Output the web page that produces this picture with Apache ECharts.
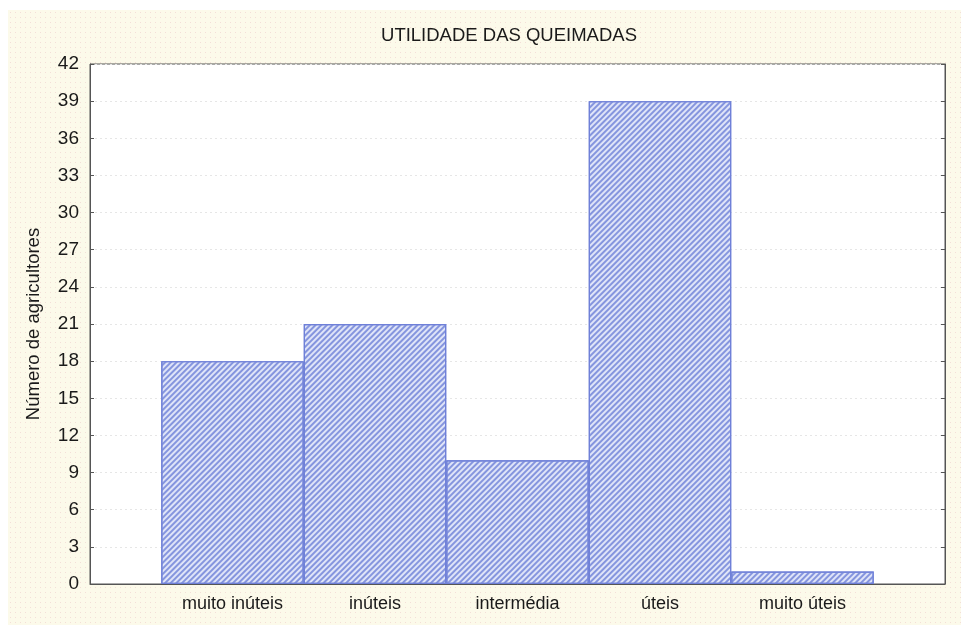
<!DOCTYPE html>
<html>
<head>
<meta charset="utf-8">
<script src="https://cdn.jsdelivr.net/npm/echarts@6/dist/echarts.min.js"></script>
<style>
html,body{margin:0;padding:0;background:#ffffff;}
#paper{position:absolute;left:8px;top:10px;width:953px;height:615px;
 background-color:#fcfaea;
 background-image:radial-gradient(circle, rgba(230,170,185,0.35) 0.6px, transparent 1px);
 background-size:5px 5px;}
#main{position:absolute;left:0;top:0;width:961px;height:625px;}
</style>
</head>
<body>
<div id="paper"></div>
<div id="main"></div>
<script>
const categories = ['muito inúteis', 'inúteis', 'intermédia', 'úteis', 'muito úteis'];
const counts = [18, 21, 10, 39, 1];
const yTicks = [0, 3, 6, 9, 12, 15, 18, 21, 24, 27, 30, 33, 36, 39, 42];

const chart = echarts.init(document.getElementById('main'), null, {renderer: 'canvas'});
const font = 'Liberation Sans, Arial, sans-serif';
const barData = counts.map((v, i) => [i + 1, v]);

chart.setOption({
  backgroundColor: 'transparent',
  animation: false,
  title: {
    text: 'UTILIDADE DAS QUEIMADAS',
    left: 504, top: 21, textAlign: 'center',
    textStyle: {fontFamily: font, fontSize: 18.5, fontWeight: 'normal', color: '#1a1a1a'}
  },
  grid: {left: 90, right: 16, top: 64, bottom: 41, show: true, backgroundColor: '#ffffff',
    borderColor: '#555', borderWidth: 1},
  xAxis: {
    type: 'value', min: 0, max: categories.length + 1, interval: 1,
    axisLine: {show: true, lineStyle: {color: '#555'}},
    axisTick: {show: false},
    splitLine: {show: false},
    axisLabel: {
      fontFamily: font, fontSize: 18, color: '#1a1a1a', margin: 11,
      formatter: v => (v >= 1 && v <= categories.length) ? categories[v - 1] : ''
    }
  },
  yAxis: [{
    type: 'value', min: yTicks[0], max: yTicks[yTicks.length - 1], interval: 3,
    name: 'Número de agricultores', nameLocation: 'middle', nameGap: 47, nameRotate: 90,
    nameTextStyle: {fontFamily: font, fontSize: 18.5, color: '#1a1a1a'},
    axisLine: {show: true, lineStyle: {color: '#555'}},
    axisTick: {show: true, inside: true, length: 4, lineStyle: {color: '#555'}},
    axisLabel: {fontFamily: font, fontSize: 19, color: '#1a1a1a', margin: 11},
    splitLine: {show: true, lineStyle: {color: '#e6e6e6', type: [2, 3]}}
  }, {
    type: 'value', min: yTicks[0], max: yTicks[yTicks.length - 1], interval: 3, position: 'right',
    axisLine: {show: true, lineStyle: {color: '#555'}},
    axisTick: {show: true, inside: true, length: 4, lineStyle: {color: '#555'}},
    axisLabel: {show: false},
    splitLine: {show: false}
  }],
  series: [{
    type: 'bar',
    data: barData,
    barWidth: '100%',
    itemStyle: {
      color: '#dfe4f8',
      borderColor: '#6f80d8',
      borderWidth: 1.2,
      decal: {
        symbol: 'rect', symbolSize: 1,
        dashArrayX: [1, 0], dashArrayY: [2, 2],
        rotation: -Math.PI / 4,
        color: '#8595de'
      }
    }
  }]
});
</script>
</body>
</html>
